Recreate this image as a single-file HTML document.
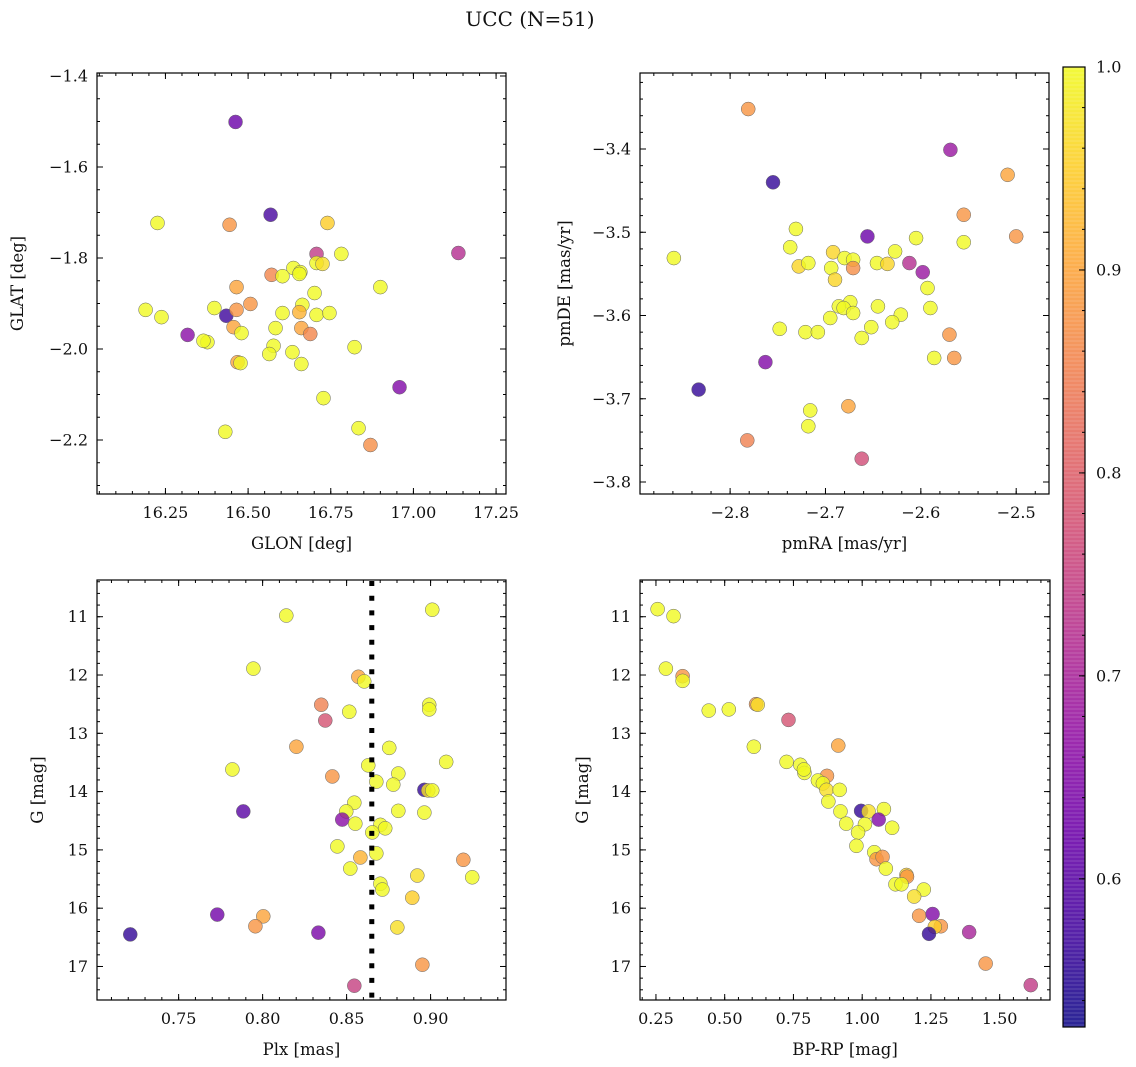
<!DOCTYPE html>
<html><head><meta charset="utf-8"><title>UCC (N=51)</title>
<style>
body{margin:0;background:#fff;}
svg{display:block;font-family:"DejaVu Serif","Liberation Serif",serif;}
</style></head>
<body>
<svg id="fig" width="1136" height="1067" viewBox="0 0 1136 1067" xmlns="http://www.w3.org/2000/svg">
<rect x="0" y="0" width="1136" height="1067" fill="#fff"/>
<text x="530" y="26" font-size="20" text-anchor="middle" fill="#111">UCC (N=51)</text>
</svg>
<script>
// ---- Panel 1: GLON / GLAT ----
const glon=[16.226,16.444,16.568,16.740,16.707,16.782,16.707,16.725,16.571,16.604,16.637,16.658,16.655,16.900,16.701,16.465,16.398,16.434,16.465,16.507,16.190,16.238,16.456,16.480,16.317,16.377,16.604,16.664,16.655,16.707,16.746,16.583,16.661,16.688,16.822,16.577,16.564,16.634,16.468,16.477,16.661,16.462,17.136,16.728,16.431,16.834,16.870,16.958,16.365];
const glat=[-1.723,-1.727,-1.705,-1.723,-1.791,-1.791,-1.811,-1.813,-1.837,-1.840,-1.822,-1.831,-1.835,-1.864,-1.877,-1.864,-1.910,-1.927,-1.914,-1.901,-1.914,-1.930,-1.952,-1.965,-1.969,-1.985,-1.921,-1.903,-1.919,-1.925,-1.921,-1.954,-1.954,-1.967,-1.996,-1.993,-2.011,-2.007,-2.029,-2.031,-2.033,-1.501,-1.789,-2.108,-2.182,-2.174,-2.211,-2.084,-1.982];
const prob1=[1,.88,.58,.95,.74,1,1,.97,.86,1,1,1,1,1,1,.9,1,.57,.88,.88,1,1,.9,1,.66,1,1,1,.92,1,1,1,.9,.86,1,1,1,1,.9,1,1,.62,.72,1,1,1,.87,.65,1];
const p1XTicks=[16.25,16.5,16.75,17.0,17.25];
const p1XLabels=["16.25","16.50","16.75","17.00","17.25"];
const p1YTicks=[-1.4,-1.6,-1.8,-2.0,-2.2];
const p1YLabels=["\u22121.4","\u22121.6","\u22121.8","\u22122.0","\u22122.2"];

// ---- Panel 2: pmRA / pmDE ----
const pmra=[-2.555,-2.731,-2.656,-2.605,-2.555,-2.737,-2.859,-2.692,-2.680,-2.671,-2.671,-2.627,-2.728,-2.718,-2.694,-2.646,-2.635,-2.612,-2.598,-2.690,-2.593,-2.590,-2.674,-2.686,-2.681,-2.645,-2.671,-2.695,-2.621,-2.630,-2.748,-2.721,-2.708,-2.652,-2.662,-2.570,-2.763,-2.586,-2.565,-2.781,-2.569,-2.755,-2.509,-2.500,-2.833,-2.716,-2.718,-2.782,-2.676,-2.662];
const pmde=[-3.479,-3.496,-3.505,-3.507,-3.512,-3.518,-3.531,-3.524,-3.531,-3.533,-3.543,-3.523,-3.541,-3.537,-3.543,-3.537,-3.538,-3.537,-3.548,-3.557,-3.567,-3.591,-3.584,-3.589,-3.591,-3.589,-3.597,-3.603,-3.599,-3.608,-3.616,-3.620,-3.620,-3.614,-3.627,-3.623,-3.656,-3.651,-3.651,-3.352,-3.401,-3.440,-3.431,-3.505,-3.689,-3.714,-3.733,-3.750,-3.709,-3.772];
const prob2=[.88,1,.62,1,1,1,1,.96,1,1,.87,1,.96,1,1,1,.96,.72,.68,.96,1,1,1,1,1,1,1,1,1,1,1,1,1,1,1,.88,.65,1,.88,.88,.68,.56,.9,.88,.56,1,1,.85,.9,.77];
const p2XTicks=[-2.8,-2.7,-2.6,-2.5];
const p2XLabels=["\u22122.8","\u22122.7","\u22122.6","\u22122.5"];
const p2YTicks=[-3.4,-3.5,-3.6,-3.7,-3.8];
const p2YLabels=["\u22123.4","\u22123.5","\u22123.6","\u22123.7","\u22123.8"];

// ---- Panel 3: Plx / G ----
const plx=[0.7945,0.8570,0.8605,0.8349,0.8516,0.8373,0.8992,0.8992,0.8201,0.8754,0.9093,0.7820,0.8629,0.8415,0.8808,0.8677,0.8778,0.8963,0.8986,0.9010,0.7885,0.8546,0.8498,0.8474,0.8552,0.8808,0.8963,0.8701,0.8730,0.8653,0.8445,0.8582,0.8677,0.8522,0.9195,0.8921,0.9248,0.8701,0.8713,0.8891,0.8004,0.8141,0.9010,0.7730,0.7212,0.7957,0.8332,0.8802,0.8951,0.8546];
const gmag3=[11.89,12.03,12.11,12.51,12.63,12.78,12.51,12.59,13.23,13.25,13.49,13.62,13.55,13.74,13.69,13.83,13.88,13.97,13.98,13.98,14.34,14.19,14.34,14.48,14.55,14.33,14.36,14.57,14.63,14.70,14.94,15.13,15.06,15.32,15.17,15.44,15.47,15.58,15.68,15.82,16.14,10.98,10.88,16.11,16.45,16.31,16.42,16.33,16.97,17.33];
const prob3=[1,.9,1,.85,1,.78,1,1,.9,1,1,1,1,.88,1,1,1,.56,.97,1,.6,1,1,.66,1,1,1,1,1,1,1,.92,1,1,.88,.97,1,1,1,.95,.9,1,1,.63,.56,.88,.64,.97,.88,.75];
const plxLine=0.865;
const p3XTicks=[0.75,0.80,0.85,0.90];
const p3XLabels=["0.75","0.80","0.85","0.90"];
const gTicks=[11,12,13,14,15,16,17];
const gLabels=["11","12","13","14","15","16","17"];

// ---- Panel 4: BP-RP / G ----
const bprp=[0.256,0.314,0.286,0.347,0.347,0.442,0.515,0.614,0.620,0.732,0.606,0.913,0.725,0.775,0.790,0.788,0.872,0.839,0.857,0.870,0.918,0.877,0.996,1.023,1.079,1.060,0.921,0.942,1.010,0.985,1.109,0.979,1.044,1.052,1.074,1.086,1.161,1.163,1.121,1.143,1.224,1.189,1.207,1.256,1.286,1.264,1.243,1.389,1.449,1.613];
const gmag4=[10.87,10.99,11.89,12.02,12.10,12.61,12.59,12.50,12.51,12.77,13.23,13.21,13.49,13.54,13.68,13.62,13.73,13.81,13.86,13.97,13.97,14.17,14.33,14.34,14.30,14.48,14.34,14.55,14.56,14.70,14.62,14.93,15.04,15.16,15.12,15.32,15.43,15.46,15.59,15.59,15.68,15.80,16.13,16.10,16.31,16.32,16.44,16.41,16.95,17.32];
const prob4=[1,1,1,.88,1,1,1,.88,.97,.78,1,.9,1,1,1,1,.88,1,1,.97,1,1,.56,.97,1,.65,1,1,1,1,1,1,1,.88,.88,1,.95,.88,1,1,1,.97,.88,.65,.88,.95,.56,.7,.88,.74];
const p4XTicks=[0.25,0.50,0.75,1.00,1.25,1.50];
const p4XLabels=["0.25","0.50","0.75","1.00","1.25","1.50"];

// ---- Colorbar ----
const cbTicks=[0.6,0.7,0.8,0.9,1.0];
const cbLabels=["0.6","0.7","0.8","0.9","1.0"];
const vmin=0.527, vmax=1.0;

const NS="http://www.w3.org/2000/svg";
const fig=document.getElementById('fig');
function mk(tag,attrs,parent){const e=document.createElementNS(NS,tag);for(const k in attrs)e.setAttribute(k,attrs[k]);(parent||fig).appendChild(e);return e;}

const plasma=[[13,8,135],[65,4,157],[106,0,168],[143,13,164],[177,42,144],[204,71,120],[225,100,98],[242,132,75],[252,166,54],[252,206,37],[240,249,33]];
function cmap(p){let t=(p-vmin)/(vmax-vmin);t=Math.max(0,Math.min(1,t));const f=t*10;const i=Math.min(9,Math.floor(f));const r=f-i;const a=plasma[i],b=plasma[i+1];return `rgb(${Math.round(a[0]+(b[0]-a[0])*r)},${Math.round(a[1]+(b[1]-a[1])*r)},${Math.round(a[2]+(b[2]-a[2])*r)})`;}

function panel(name,box,xd,yd,xt,xl,yt,yl,xminor,yminor,xlabel,ylabel,xs,ys,ps){
  const g=mk('g',{});
  
  
  const sx=v=>box.x0+(v-xd[0])/(xd[1]-xd[0])*(box.x1-box.x0);
  const sy=v=>box.y1-(v-yd[0])/(yd[1]-yd[0])*(box.y1-box.y0);
  const tg=mk('g',{stroke:'#000','stroke-width':1},g);
  
  
  const lo=Math.min(xd[0],xd[1]),hi=Math.max(xd[0],xd[1]);
  for(let v=Math.ceil(lo/xminor)*xminor;v<=hi;v+=xminor){const x=sx(v);mk('line',{x1:x,x2:x,y1:box.y1,y2:box.y1-3},tg);mk('line',{x1:x,x2:x,y1:box.y0,y2:box.y0+3},tg);}
  const ylo=Math.min(yd[0],yd[1]),yhi=Math.max(yd[0],yd[1]);
  for(let v=Math.ceil(ylo/yminor)*yminor;v<=yhi;v+=yminor){const y=sy(v);mk('line',{x1:box.x0,x2:box.x0+3,y1:y,y2:y},tg);mk('line',{x1:box.x1,x2:box.x1-3,y1:y,y2:y},tg);}
  xt.forEach((v,i)=>{const x=sx(v);mk('line',{x1:x,x2:x,y1:box.y1,y2:box.y1-6},tg);mk('line',{x1:x,x2:x,y1:box.y0,y2:box.y0+6},tg);
    const t=mk('text',{x:x,y:box.y1+24,'font-size':16,'text-anchor':'middle',fill:'#111'},g);t.textContent=xl[i];
    
    });
  yt.forEach((v,i)=>{const y=sy(v);mk('line',{x1:box.x0,x2:box.x0+6,y1:y,y2:y},tg);mk('line',{x1:box.x1,x2:box.x1-6,y1:y,y2:y},tg);
    const t=mk('text',{x:box.x0-9,y:y+5.5,'font-size':16,'text-anchor':'end',fill:'#111'},g);t.textContent=yl[i];
    
    });
  const xlab=mk('text',{x:(box.x0+box.x1)/2,y:box.y1+55,'font-size':16.5,'text-anchor':'middle',fill:'#111'},g);xlab.textContent=xlabel;
  
  
  const ylx=box.ylabx, yly=(box.y0+box.y1)/2;
  const ylab=mk('text',{x:ylx,y:yly,'font-size':16.5,'text-anchor':'middle',fill:'#111',transform:`rotate(-90 ${ylx} ${yly})`},g);ylab.textContent=ylabel;
  
  
  const pg=mk('g',{},g);
  
  
  for(let i=0;i<xs.length;i++){
    const c=mk('circle',{cx:sx(xs[i]),cy:sy(ys[i]),r:7,fill:cmap(ps[i]),'fill-opacity':0.8,stroke:'#666','stroke-width':0.5},pg);
    
    
  }
  const fr=mk('rect',{x:box.x0,y:box.y0,width:box.x1-box.x0,height:box.y1-box.y0,fill:'none',stroke:'#000','stroke-width':1.2},g);
  
  
  return {sx,sy,g};
}

panel('glon-glat-panel',{x0:97,x1:506,y0:73,y1:494,ylabx:23},[16.043,17.280],[-2.3187,-1.3934],p1XTicks,p1XLabels,p1YTicks,p1YLabels,0.05,0.05,'GLON [deg]','GLAT [deg]',glon,glat,prob1);
panel('pm-panel',{x0:640,x1:1049,y0:73,y1:494,ylabx:570},[-2.8945,-2.4656],[-3.8144,-3.3087],p2XTicks,p2XLabels,p2YTicks,p2YLabels,0.02,0.02,'pmRA [mas/yr]','pmDE [mas/yr]',pmra,pmde,prob2);
const p3=panel('plx-g-panel',{x0:97,x1:506,y0:580,y1:1000,ylabx:43},[0.7014,0.9449],[17.575,10.37],p3XTicks,p3XLabels,gTicks,gLabels,0.01,0.2,'Plx [mas]','G [mag]',plx,gmag3,prob3);
panel('cmd-panel',{x0:640,x1:1050,y0:580,y1:1000,ylabx:588},[0.192,1.683],[17.575,10.37],p4XTicks,p4XLabels,gTicks,gLabels,0.05,0.2,'BP-RP [mag]','G [mag]',bprp,gmag4,prob4);

const lx=p3.sx(plxLine);
const dl=mk('line',{x1:lx,x2:lx,y1:581,y2:999,stroke:'#000','stroke-width':5,'stroke-dasharray':'5 9.7'});



const cb={x0:1063,x1:1085,y0:67,y1:1027};
const cbg=mk('g',{});


const csy=v=>cb.y1-(v-vmin)/(vmax-vmin)*(cb.y1-cb.y0);
const N=240;
for(let i=0;i<N;i++){
  const v0=vmin+(vmax-vmin)*i/N, v1=vmin+(vmax-vmin)*(i+1)/N;
  const r=mk('rect',{x:cb.x0,y:csy(v1)-0.5,width:cb.x1-cb.x0,height:csy(v0)-csy(v1)+1,fill:cmap((v0+v1)/2),'fill-opacity':0.8},cbg);
  
  
}
for(let v=0.54;v<=1.0001;v+=0.02){const y=csy(v);mk('line',{x1:cb.x1,x2:cb.x1-3,y1:y,y2:y,stroke:'#000','stroke-width':1},cbg);}
cbTicks.forEach((v,i)=>{const y=csy(v);mk('line',{x1:cb.x1,x2:cb.x1-6,y1:y,y2:y,stroke:'#000','stroke-width':1},cbg);
  const t=mk('text',{x:cb.x1+11,y:y+5.5,'font-size':16,fill:'#111'},cbg);t.textContent=cbLabels[i];
  
  });
const cbf=mk('rect',{x:cb.x0,y:cb.y0,width:cb.x1-cb.x0,height:cb.y1-cb.y0,fill:'none',stroke:'#000','stroke-width':1.2},cbg);


</script>
</body></html>
